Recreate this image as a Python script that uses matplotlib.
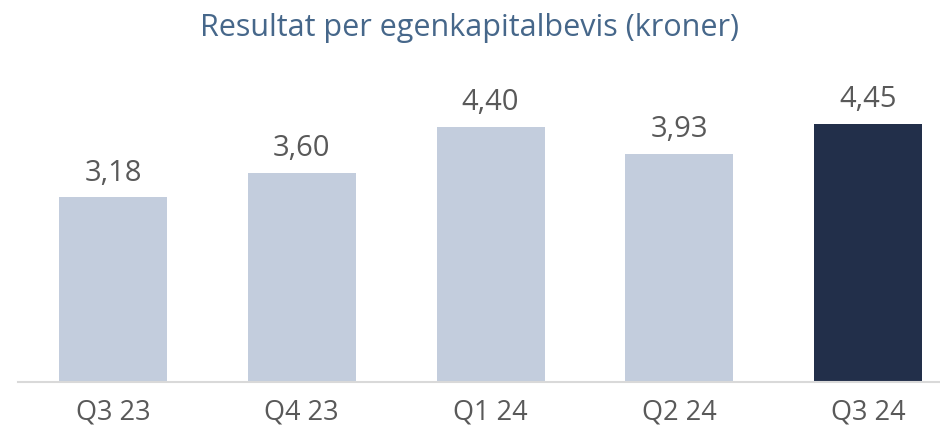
import matplotlib
matplotlib.use("Agg")
import matplotlib.pyplot as plt

categories = ["Q3 23", "Q4 23", "Q1 24", "Q2 24", "Q3 24"]
values = [3.18, 3.60, 4.40, 3.93, 4.45]
value_labels = ["3,18", "3,60", "4,40", "3,93", "4,45"]
title = "Resultat per egenkapitalbevis (kroner)"

light = "#C3CDDD"
dark = "#222F4A"
colors = [light, light, light, light, dark]
text_gray = "#595959"

plt.rcParams['font.family'] = ['Open Sans', 'DejaVu Sans']

W, H = 940, 426
fig = plt.figure(figsize=(W / 100, H / 100), dpi=100)
ax_left, ax_right = 18, 940
ax_bottom_px, ax_top_px = 381.5, 60
ax = fig.add_axes([ax_left / W, (H - ax_bottom_px) / H,
                   (ax_right - ax_left) / W, (ax_bottom_px - ax_top_px) / H])

x = list(range(len(categories)))
bars = ax.bar(x, values, width=0.572, color=colors, zorder=2)
ax.set_xlim(-0.503, 4.381)
ax.set_ylim(0, (ax_bottom_px - ax_top_px) / 57.87)

for xi, v, lab in zip(x, values, value_labels):
    ax.annotate(lab, (xi, v), xytext=(0, 7), textcoords="offset points",
                ha="center", va="bottom", fontsize=21, color=text_gray)

ax.set_xticks(x)
ax.set_xticklabels(categories, fontsize=19.5, color=text_gray)
ax.tick_params(axis="x", length=0, pad=12)
ax.set_yticks([])
for s in ["top", "right", "left"]:
    ax.spines[s].set_visible(False)
ax.spines["bottom"].set_color("#D9D9D9")
ax.spines["bottom"].set_linewidth(1.5)

fig.text(0.5, 1 - 28 / H, title, ha="center", va="center",
         fontsize=22, color="#46678A")

fig.savefig("out.png", dpi=100)
